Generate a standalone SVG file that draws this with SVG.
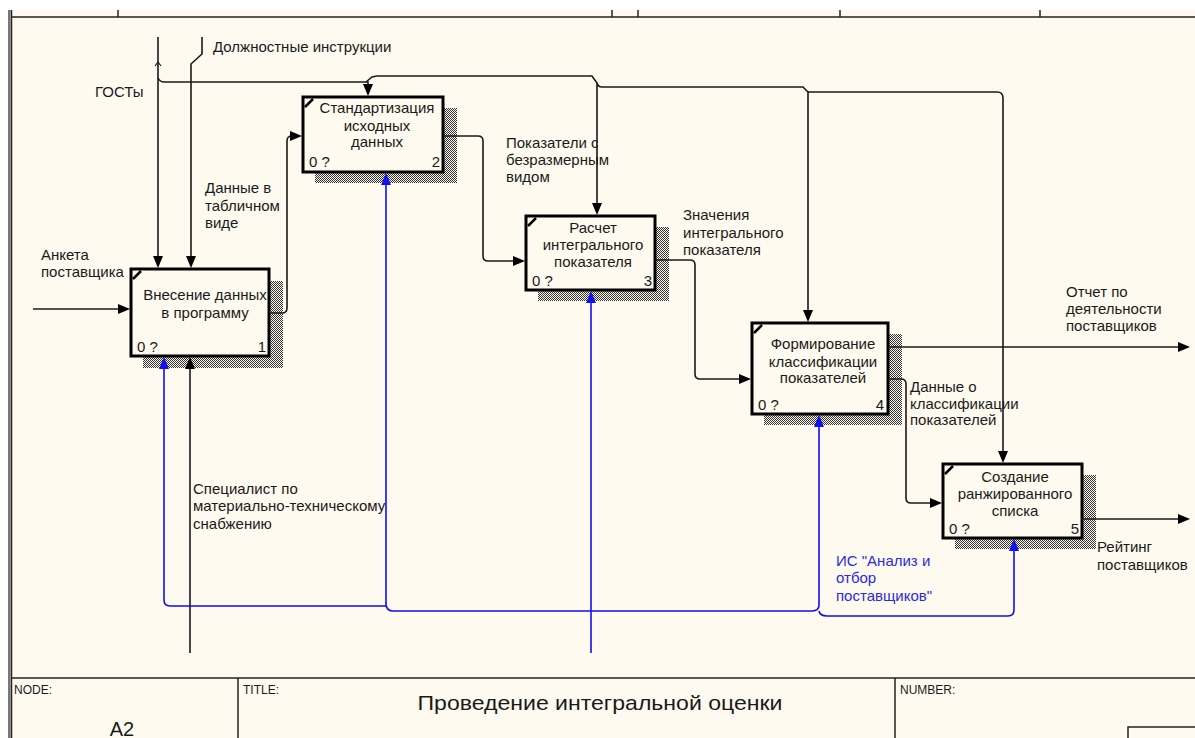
<svg xmlns="http://www.w3.org/2000/svg" xmlns:xlink="http://www.w3.org/1999/xlink" width="1195" height="738" viewBox="0 0 1195 738">
<style>
.t{font-family:"Liberation Sans",Arial,sans-serif;font-size:15px;fill:#1a1a1a}
.c{text-anchor:middle}
.e{text-anchor:end}
.b{fill:#2a2ae0}
.ln{fill:none;stroke:#1a1a1a;stroke-width:1.6}
.bl{fill:none;stroke:#1010f0;stroke-width:1.6}
.box{fill:#fffaef;stroke:#000;stroke-width:3}
.sh{fill:url(#hatch)}
.cm{stroke:#000;stroke-width:2.5}
.fr{stroke:#222;stroke-width:1.5;fill:none}
.sm{font-family:"Liberation Sans",Arial,sans-serif;font-size:12px;fill:#1a1a1a}
.ak{fill:#000}
.ab{fill:#1010f0}
</style>
<defs>
<pattern id="hatch" width="2" height="2" patternUnits="userSpaceOnUse">
<rect width="2" height="2" fill="#fffaef"/>
<rect width="1" height="1" fill="#333"/>
<rect x="1" y="1" width="1" height="1" fill="#333"/>
</pattern>
<path id="ah" d="M0,0 L-12,-5 L-12,5 Z"/>
</defs>
<rect width="1195" height="738" fill="#ffffff"/>
<rect x="8" y="10" width="1187" height="728" fill="#fffaef"/>
<g id="frame">
<rect x="8" y="10" width="2.5" height="728" fill="#777"/>
<line x1="11.5" y1="10" x2="11.5" y2="738" class="fr"/>
<line x1="11" y1="17" x2="1195" y2="17" class="fr"/>
<line x1="118" y1="10" x2="118" y2="17" class="fr"/>
<line x1="612" y1="10" x2="612" y2="17" class="fr"/>
<line x1="638" y1="10" x2="638" y2="17" class="fr"/>
<line x1="840" y1="10" x2="840" y2="17" class="fr"/>
<line x1="1040" y1="10" x2="1040" y2="17" class="fr"/>
<line x1="11" y1="678" x2="1195" y2="678" class="fr"/>
<line x1="238" y1="678" x2="238" y2="738" class="fr"/>
<line x1="895" y1="678" x2="895" y2="738" class="fr"/>
<rect x="1128" y="727" width="80" height="20" class="fr"/>
<text x="14" y="694" class="sm">NODE:</text>
<text x="243" y="694" class="sm">TITLE:</text>
<text x="900" y="694" class="sm">NUMBER:</text>
<text x="600" y="710" class="t c" style="font-size:21px" textLength="365" lengthAdjust="spacingAndGlyphs">Проведение  интегральной  оценки</text>
<text x="122" y="736" class="t c" style="font-size:20px">A2</text>
</g>
<g id="node1">
<rect x="143" y="281" width="140" height="87" class="sh"/>
<rect x="131" y="269" width="138" height="87" class="box"/>
<line x1="133" y1="279" x2="141" y2="271" class="cm"/>
<text class="t c"><tspan x="205" y="300">Внесение данных</tspan><tspan x="205" y="318">в программу</tspan></text>
<text x="137" y="352" class="t">0 ?</text>
<text x="266" y="352" class="t e">1</text>
</g>
<g id="node2">
<rect x="315" y="108" width="142" height="75" class="sh"/>
<rect x="303" y="97" width="140" height="75" class="box"/>
<line x1="305" y1="107" x2="313" y2="99" class="cm"/>
<text class="t c"><tspan x="377" y="113">Стандартизация</tspan><tspan x="377" y="131">исходных</tspan><tspan x="377" y="147">данных</tspan></text>
<text x="309" y="167" class="t">0 ?</text>
<text x="440" y="167" class="t e">2</text>
</g>
<g id="node3">
<rect x="538" y="227" width="131" height="74" class="sh"/>
<rect x="526" y="216" width="129" height="74" class="box"/>
<line x1="528" y1="226" x2="536" y2="218" class="cm"/>
<text class="t c"><tspan x="593" y="233">Расчет</tspan><tspan x="593" y="250">интегрального</tspan><tspan x="593" y="267">показателя</tspan></text>
<text x="532" y="286" class="t">0 ?</text>
<text x="652" y="286" class="t e">3</text>
</g>
<g id="node4">
<rect x="764" y="334" width="138" height="91" class="sh"/>
<rect x="752" y="323" width="136" height="91" class="box"/>
<line x1="754" y1="333" x2="762" y2="325" class="cm"/>
<text class="t c"><tspan x="823" y="349">Формирование</tspan><tspan x="823" y="367">классификации</tspan><tspan x="823" y="383">показателей</tspan></text>
<text x="758" y="410" class="t">0 ?</text>
<text x="884" y="410" class="t e">4</text>
</g>
<g id="node5">
<rect x="955" y="475" width="141" height="74" class="sh"/>
<rect x="943" y="464" width="139" height="74" class="box"/>
<line x1="945" y1="474" x2="953" y2="466" class="cm"/>
<text class="t c"><tspan x="1015" y="482">Создание</tspan><tspan x="1015" y="499">ранжированного</tspan><tspan x="1015" y="516">списка</tspan></text>
<text x="949" y="534" class="t">0 ?</text>
<text x="1079" y="534" class="t e">5</text>
</g>
<g id="labels">
<text x="213" y="52" class="t">Должностные инструкции</text>
<text x="95" y="97" class="t">ГОСТы</text>
<text class="t"><tspan x="205" y="193">Данные в</tspan><tspan x="205" y="211">табличном</tspan><tspan x="205" y="228">виде</tspan></text>
<text class="t"><tspan x="41" y="260">Анкета</tspan><tspan x="41" y="277">поставщика</tspan></text>
<text class="t"><tspan x="506" y="148">Показатели с</tspan><tspan x="506" y="165">безразмерным</tspan><tspan x="506" y="182">видом</tspan></text>
<text class="t"><tspan x="683" y="220">Значения</tspan><tspan x="683" y="238">интегрального</tspan><tspan x="683" y="255">показателя</tspan></text>
<text class="t"><tspan x="1066" y="297">Отчет по</tspan><tspan x="1066" y="314">деятельности</tspan><tspan x="1066" y="331">поставщиков</tspan></text>
<text class="t"><tspan x="910" y="392">Данные о</tspan><tspan x="910" y="409">классификации</tspan><tspan x="910" y="425">показателей</tspan></text>
<text class="t"><tspan x="1097" y="552">Рейтинг</tspan><tspan x="1097" y="570">поставщиков</tspan></text>
<text class="t b"><tspan x="836" y="566">ИС "Анализ и</tspan><tspan x="836" y="583">отбор</tspan><tspan x="836" y="601">поставщиков"</tspan></text>
<text class="t"><tspan x="193" y="494">Специалист по</tspan><tspan x="193" y="511">материально-техническому</tspan><tspan x="193" y="529">снабжению</tspan></text>
</g>
<g id="connectors">
<path class="ln" d="M158,37 V262"/>
<path class="ln" d="M155,66 L158,62 L161,66" style="stroke-width:1.2"/>
<path class="ln" d="M158,78 Q160,82 164,82 H368 V90"/>
<path class="ln" d="M366,82 L372,77 L377,76 H592 L597,83 V209"/>
<path class="ln" d="M597,83 Q598,87 602,87 H803 L808,92 V316"/>
<path class="ln" d="M808,92 H997 Q1003,92 1003,98 V457"/>
<path class="ln" d="M202,37 V54 L191,64 V262"/>
<path class="ln" d="M33,309 H124"/>
<path class="ln" d="M269,313 H282 Q287,313 287,308 V141 Q287,136 292,136 H296"/>
<path class="ln" d="M443,136 H478 Q483,136 483,141 V256 Q483,261 488,261 H519"/>
<path class="ln" d="M655,260 H690 Q695,260 695,265 V374 Q695,379 700,379 H745"/>
<path class="ln" d="M888,347 H1182"/>
<path class="ln" d="M888,379 H901 Q906,379 906,384 V498 Q906,503 911,503 H936"/>
<path class="ln" d="M1082,519 H1182"/>
<path class="ln" d="M190,653 V363"/>
<path class="bl" d="M591,653 V297"/>
<path class="bl" d="M591,611 H393 Q387,611 386,605 V179"/>
<path class="bl" d="M386,606 H170 Q164,606 164,600 V363"/>
<path class="bl" d="M591,611 H812 Q819,611 819,605 V421"/>
<path class="bl" d="M819,611 Q820,616 827,616 H1008 Q1014,616 1014,610 V545"/>
<use xlink:href="#ah" href="#ah" class="ak" transform="translate(158,268) rotate(90)"/>
<use xlink:href="#ah" href="#ah" class="ak" transform="translate(191,268) rotate(90)"/>
<use xlink:href="#ah" href="#ah" class="ak" transform="translate(368,96) rotate(90)"/>
<use xlink:href="#ah" href="#ah" class="ak" transform="translate(597,215) rotate(90)"/>
<use xlink:href="#ah" href="#ah" class="ak" transform="translate(808,322) rotate(90)"/>
<use xlink:href="#ah" href="#ah" class="ak" transform="translate(1003,463) rotate(90)"/>
<use xlink:href="#ah" href="#ah" class="ak" transform="translate(130,309)"/>
<use xlink:href="#ah" href="#ah" class="ak" transform="translate(302,136)"/>
<use xlink:href="#ah" href="#ah" class="ak" transform="translate(525,261)"/>
<use xlink:href="#ah" href="#ah" class="ak" transform="translate(751,379)"/>
<use xlink:href="#ah" href="#ah" class="ak" transform="translate(942,503)"/>
<use xlink:href="#ah" href="#ah" class="ak" transform="translate(1190,347)"/>
<use xlink:href="#ah" href="#ah" class="ak" transform="translate(1190,519)"/>
<use xlink:href="#ah" href="#ah" class="ak" transform="translate(190,357) rotate(-90)"/>
<use xlink:href="#ah" href="#ah" class="ab" transform="translate(591,291) rotate(-90)"/>
<use xlink:href="#ah" href="#ah" class="ab" transform="translate(386,173) rotate(-90)"/>
<use xlink:href="#ah" href="#ah" class="ab" transform="translate(164,357) rotate(-90)"/>
<use xlink:href="#ah" href="#ah" class="ab" transform="translate(819,415) rotate(-90)"/>
<use xlink:href="#ah" href="#ah" class="ab" transform="translate(1014,539) rotate(-90)"/>
</g>
</svg>
